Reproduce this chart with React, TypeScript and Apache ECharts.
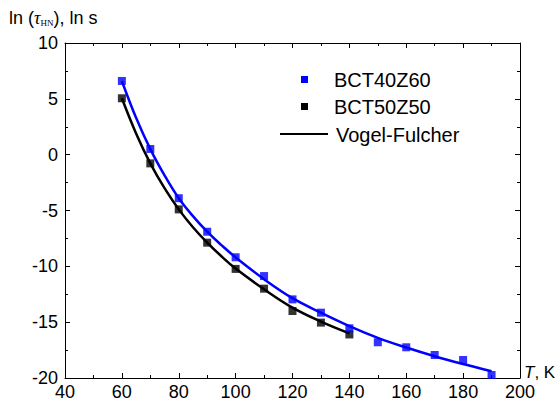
import React, { useEffect, useRef } from "react";
import * as echarts from "echarts";

const tempsBCT40Z60 = [60, 70, 80, 90, 100, 110, 120, 130, 140, 150, 160, 170, 180, 190];
const lnTauBCT40Z60 = [6.6, 0.51, -3.9, -6.9, -9.19, -10.87, -12.96, -14.15, -15.55, -16.8, -17.25, -17.94, -18.39, -19.73];

const tempsBCT50Z50 = [60, 70, 80, 90, 100, 110, 120, 130, 140];
const lnTauBCT50Z50 = [5.05, -0.78, -4.9, -7.88, -10.23, -12.0, -14.0, -15.04, -16.1];

// Vogel-Fulcher fit curves
const fitTempsBlue = [60, 65, 70, 75, 80, 85, 90, 95, 100, 110, 120, 130, 140, 150, 160, 170, 180, 190];
const fitBlue = [6.6, 3.3, 0.5, -1.85, -3.9, -5.5, -6.9, -8.1, -9.2, -11.15, -12.85, -14.15, -15.35, -16.4, -17.27, -18.05, -18.75, -19.4];

const fitTempsBlack = [60, 65, 70, 75, 80, 85, 90, 95, 100, 110, 120, 130, 140];
const fitBlack = [5.05, 1.9, -0.78, -3.0, -4.9, -6.5, -7.88, -9.1, -10.2, -12.05, -13.7, -14.95, -16.0];

const xTicks = { min: 40, max: 200, interval: 20 };
const yTicks = { min: -20, max: 10, interval: 5 };

const seriesNames = ["BCT40Z60", "BCT50Z50", "Vogel-Fulcher"];

const zip = (xs: number[], ys: number[]) => xs.map((x, i) => [x, ys[i]]);

const FONT = "'Liberation Sans', Arial, Helvetica, sans-serif";

export default function App() {
  const ref = useRef<HTMLDivElement>(null);

  useEffect(() => {
    if (!ref.current) return;
    const chart = echarts.init(ref.current, undefined, { renderer: "svg" });

    const axisCommon = {
      type: "value" as const,
      axisLine: { show: true, onZero: false, lineStyle: { color: "#000", width: 1 } },
      axisTick: { show: true, inside: true, length: 5, lineStyle: { color: "#000" } },
      minorTick: { show: true, splitNumber: 2, length: 3, lineStyle: { color: "#000" } },
      splitLine: { show: false },
      minorSplitLine: { show: false },
    };
    const labelStyle = { fontSize: 18, color: "#000", fontFamily: FONT };

    chart.setOption({
      animation: false,
      backgroundColor: "#fff",
      grid: { left: 65, right: 38, top: 43, bottom: 27, containLabel: false },
      xAxis: [
        {
          ...axisCommon,
          ...xTicks,
          position: "bottom",
          axisLabel: { ...labelStyle, margin: 5 },
        },
        {
          ...axisCommon,
          ...xTicks,
          position: "top",
          axisLabel: { show: false },
        },
      ],
      yAxis: [
        {
          ...axisCommon,
          ...yTicks,
          position: "left",
          axisLabel: { ...labelStyle, margin: 7 },
        },
        {
          ...axisCommon,
          ...yTicks,
          position: "right",
          axisLabel: { show: false },
        },
      ],
      series: [
        {
          name: seriesNames[2],
          type: "line",
          data: zip(fitTempsBlack, fitBlack),
          smooth: 0.4,
          showSymbol: false,
          lineStyle: { color: "#000", width: 2.5 },
          z: 2,
        },
        {
          name: seriesNames[2] + " (BCT40Z60)",
          type: "line",
          data: zip(fitTempsBlue, fitBlue),
          smooth: 0.4,
          showSymbol: false,
          lineStyle: { color: "#0000ff", width: 2.5 },
          z: 2,
        },
        {
          name: seriesNames[1],
          type: "scatter",
          data: zip(tempsBCT50Z50, lnTauBCT50Z50),
          symbol: "rect",
          symbolSize: 8,
          itemStyle: { color: "#000" },
          z: 3,
        },
        {
          name: seriesNames[0],
          type: "scatter",
          data: zip(tempsBCT40Z60, lnTauBCT40Z60),
          symbol: "rect",
          symbolSize: 8,
          itemStyle: { color: "#0000ff" },
          z: 3,
        },
      ],
      graphic: [
        // y-axis title
        {
          type: "text",
          left: 9,
          top: 9,
          style: {
            text: "{a|ln (}{t|τ}{s|HN}{a|), ln s}",
            rich: {
              a: { fontSize: 18, fontFamily: FONT, fill: "#000" },
              t: { fontSize: 18, fontFamily: "'Liberation Serif', 'Times New Roman', serif", fontStyle: "italic", fill: "#000" },
              s: { fontSize: 9, fontFamily: "'Liberation Serif', 'Times New Roman', serif", fill: "#000", verticalAlign: "bottom", padding: [8, 0, 0, 0] },
            },
          },
        },
        // x-axis title
        {
          type: "text",
          left: 524,
          top: 364,
          style: {
            text: "{t|T}{a|, K}",
            rich: {
              a: { fontSize: 17, fontFamily: FONT, fill: "#000" },
              t: { fontSize: 17, fontFamily: FONT, fontStyle: "italic", fill: "#000" },
            },
          },
        },
        // legend
        { type: "rect", shape: { x: 301, y: 76, width: 7, height: 7 }, style: { fill: "#0000ff" } },
        { type: "text", x: 334, y: 80, style: { text: seriesNames[0], fontSize: 20, fontFamily: FONT, fill: "#000", verticalAlign: "middle" } },
        { type: "rect", shape: { x: 301, y: 103, width: 7, height: 7 }, style: { fill: "#000" } },
        { type: "text", x: 334, y: 107, style: { text: seriesNames[1], fontSize: 20, fontFamily: FONT, fill: "#000", verticalAlign: "middle" } },
        { type: "line", shape: { x1: 280, y1: 134, x2: 328, y2: 134 }, style: { stroke: "#000", lineWidth: 2.2 } },
        { type: "text", x: 336, y: 135, style: { text: seriesNames[2], fontSize: 20, fontFamily: FONT, fill: "#000", verticalAlign: "middle" } },
      ],
    });

    return () => chart.dispose();
  }, []);

  return (
    <div
      ref={ref}
      style={{ position: "fixed", left: 0, top: 0, width: 558, height: 405, background: "#fff" }}
    />
  );
}
